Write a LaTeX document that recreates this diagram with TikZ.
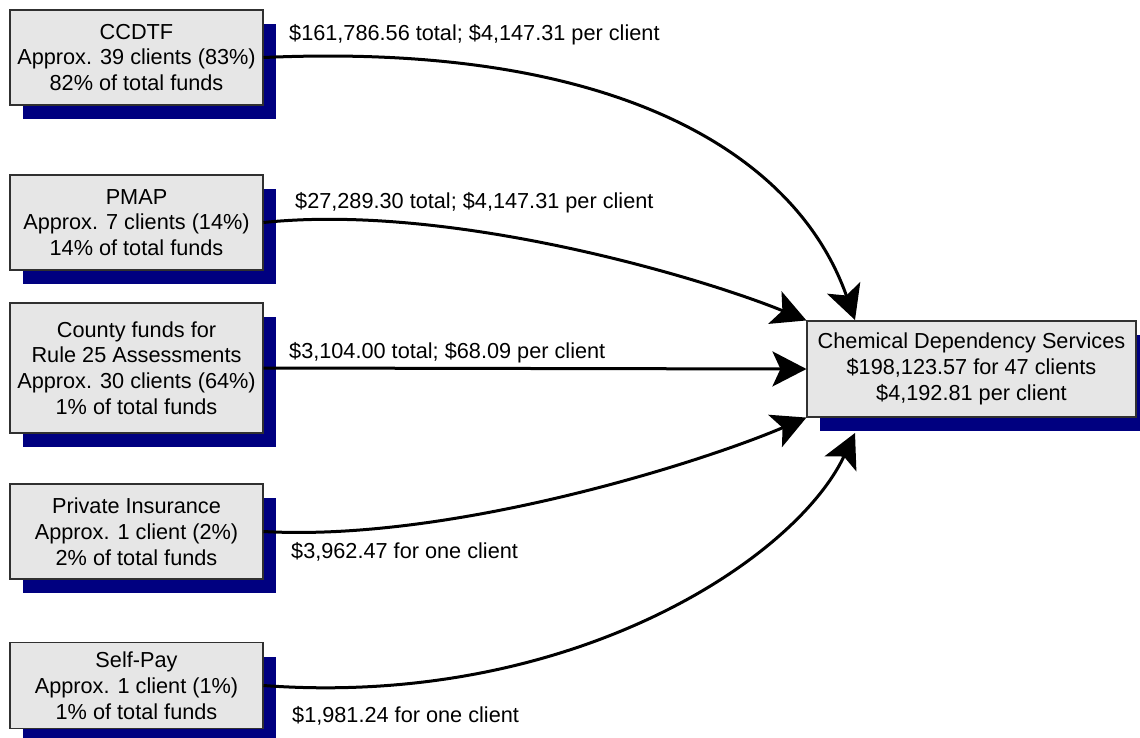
\documentclass[tikz,border=0pt]{standalone}
\usepackage{fontspec}
\setmainfont{Liberation Sans}
\usetikzlibrary{arrows.meta,shadows,calc}
\definecolor{boxfill}{HTML}{E6E6E6}
\definecolor{navyshade}{HTML}{000080}
\definecolor{boxline}{HTML}{303030}
\begin{document}
\begin{tikzpicture}[x=1pt,y=-1pt,
  fundbox/.style={draw=boxline, line width=1.1pt, fill=boxfill, align=center,
    minimum width=253pt, inner sep=0pt,
    general shadow={shadow xshift=13pt, shadow yshift=-14pt, fill=navyshade, draw=none},
    font=\fontsize{21.7}{25.8}\selectfont},
  flow/.style={line width=3pt, -{Stealth[length=34pt, width=35pt, inset=8pt]}},
  amount/.style={anchor=west, inner sep=0pt, font=\fontsize{21.7}{25.8}\selectfont}]
\useasboundingbox (0,0) rectangle (1140,737);

% funding sources
\node[fundbox, minimum height=95pt] (ccdtf) at (136.5,57.5)
  {CCDTF\\Approx. 39 clients (83\%)\\82\% of total funds};
\node[fundbox, minimum height=95pt] (pmap) at (136.5,222.5)
  {PMAP\\Approx. 7 clients (14\%)\\14\% of total funds};
\node[fundbox, minimum height=130pt] (county) at (136.5,368)
  {County funds for\\Rule 25 Assessments\\Approx. 30 clients (64\%)\\1\% of total funds};
\node[fundbox, minimum height=95pt] (private) at (136.5,531.5)
  {Private Insurance\\Approx. 1 client (2\%)\\2\% of total funds};
\node[fundbox, minimum height=86pt] (selfpay) at (136.5,685.5)
  {Self-Pay\\Approx. 1 client (1\%)\\1\% of total funds};

% receiving service
\node[fundbox, minimum width=329pt, minimum height=96pt] (cds) at (971.5,369)
  {Chemical Dependency Services\\\$198,123.57 for 47 clients\\\$4,192.81 per client};

\coordinate (intop) at (855,320);
\coordinate (inbottom) at (855,433);

% flows of money
\draw[flow] (ccdtf.east) .. controls (610,42) and (795,150) .. (intop);
\draw[flow] (pmap.east) .. controls (450,203) and (700,277) .. (cds.north west);
\draw[flow] (county.east) -- (cds.west);
\draw[flow] (private.east) .. controls (450,542) and (700,463) .. (cds.south west);
\draw[flow] (selfpay.east) .. controls (570,708) and (795,560) .. (inbottom);

% amounts
\node[amount] (a1) at (289,35) {\$161,786.56 total; \$4,147.31 per client};
\node[amount] (a2) at (295,203) {\$27,289.30 total; \$4,147.31 per client};
\node[amount] (a3) at (289,353) {\$3,104.00 total; \$68.09 per client};
\node[amount] (a4) at (291,552) {\$3,962.47 for one client};
\node[amount] (a5) at (292,716) {\$1,981.24 for one client};
\end{tikzpicture}
\end{document}
